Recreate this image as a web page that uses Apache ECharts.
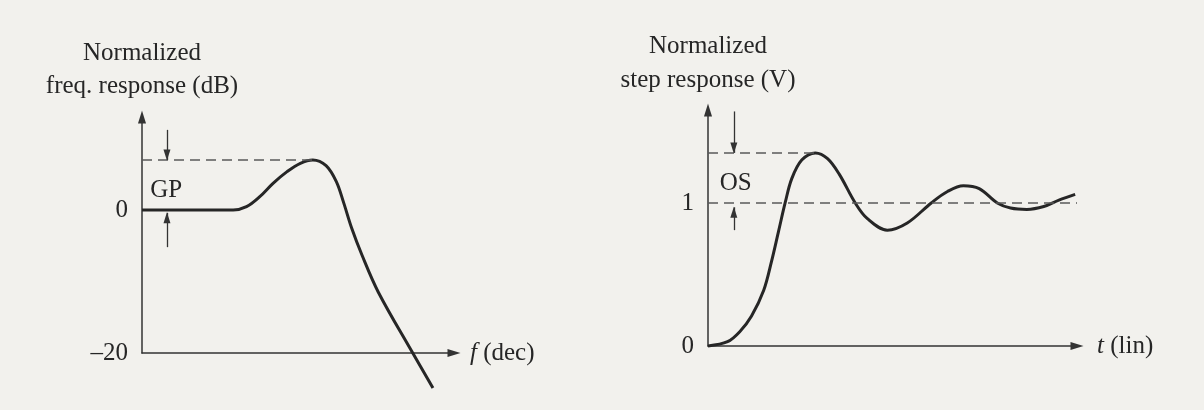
<!DOCTYPE html>
<html>
<head>
<meta charset="utf-8">
<script src="https://cdn.jsdelivr.net/npm/echarts@6/dist/echarts.min.js"></script>
<style>
  html, body { margin: 0; padding: 0; background: #f2f1ed; }
  #chart { width: 1204px; height: 410px; }
</style>
</head>
<body>
<div id="chart"></div>
<script>
// Closed-loop frequency response: position in decades, magnitude in dB
const freqDec = [0, 0.6, 1.0, 1.17, 1.34, 1.51, 1.68, 1.86, 2.03, 2.19, 2.36, 2.49, 2.58, 2.69, 2.82, 3.03, 3.46, 3.73];
const freqDb  = [0, 0, 0, 0, 0.46, 1.86, 3.73, 5.36, 6.53, 7.0, 6.2, 4.0, 1.2, -2.6, -6.3, -11.5, -19.8, -24.9];

// Closed-loop step response: linear time, normalized volts
const stepT = [0, 0.53, 0.86, 1.18, 1.51, 1.72, 1.91, 2.09, 2.27, 2.54, 2.91, 3.24, 3.56, 3.99, 4.32, 4.86, 5.40, 6.05, 6.49, 6.92, 7.35, 7.84, 8.2, 8.64, 9.1, 9.51, 9.95];
const stepV = [0, 0.03, 0.10, 0.21, 0.39, 0.59, 0.80, 1.0, 1.17, 1.30, 1.35, 1.31, 1.20, 1.0, 0.89, 0.81, 0.86, 1.0, 1.08, 1.12, 1.10, 1.0, 0.965, 0.955, 0.975, 1.02, 1.06];

// Labelled ticks on the two vertical axes
const freqTickValues = [0, -20];
const freqTickLabels = ['0', '\u201320'];
const stepTickValues = [0, 1];
const stepTickLabels = ['0', '1'];

// Final value of the step response
const stepFinal = 1;

const zip = (xs, ys) => xs.map((x, i) => [x, ys[i]]);

const fPeak = Math.max(...freqDb);
const fPeakX = freqDec[freqDb.indexOf(fPeak)];
const sPeak = Math.max(...stepV);
const sPeakX = stepT[stepV.indexOf(sPeak)];

const FONT = "'Liberation Serif', 'Times New Roman', 'DejaVu Serif', serif";
const INK = '#262626';
const textBase = { fontFamily: FONT, fontSize: 25, color: INK };

const axisArrowLine = {
  show: true,
  onZero: false,
  symbol: ['none', 'triangle'],
  symbolSize: [8, 13],
  lineStyle: { color: '#333', width: 1.5 }
};

function tickFormatter(values, labels) {
  return v => {
    const i = values.indexOf(v);
    return i >= 0 ? labels[i] : '';
  };
}

const dashStyle = { type: [10, 6], color: '#5a5a5a', width: 1.5 };
const arrowStyle = { type: 'solid', color: '#333', width: 1.3 };

// Vertical pointer whose tip lands on the "to" value
function arrow(x, from, to) {
  return [
    { coord: [x, from], lineStyle: arrowStyle, symbol: 'none' },
    { coord: [x, to], lineStyle: arrowStyle, symbol: 'triangle', symbolSize: [7, 11], symbolOffset: [0, 5] }
  ];
}

function dashed(x0, x1, y) {
  return [
    { coord: [x0, y], lineStyle: dashStyle, symbol: 'none' },
    { coord: [x1, y], lineStyle: dashStyle, symbol: 'none' }
  ];
}

const chart = echarts.init(document.getElementById('chart'), null, { renderer: 'canvas' });

chart.setOption({
  backgroundColor: '#f2f1ed',
  animation: false,
  grid: [
    { left: 142, top: 117, width: 312, height: 236 },
    { left: 708, top: 110, width: 369, height: 236 }
  ],
  xAxis: [
    {
      type: 'value', gridIndex: 0, min: 0, max: 4,
      axisLine: axisArrowLine,
      axisTick: { show: false }, axisLabel: { show: false }, splitLine: { show: false },
      name: '{i|f} (dec)', nameLocation: 'end', nameGap: 16,
      nameTextStyle: Object.assign({}, textBase, {
        verticalAlign: 'middle',
        rich: { i: Object.assign({}, textBase, { fontStyle: 'italic' }) }
      })
    },
    {
      type: 'value', gridIndex: 1, min: 0, max: 10,
      axisLine: axisArrowLine,
      axisTick: { show: false }, axisLabel: { show: false }, splitLine: { show: false },
      name: '{i|t} (lin)', nameLocation: 'end', nameGap: 20,
      nameTextStyle: Object.assign({}, textBase, {
        verticalAlign: 'middle',
        rich: { i: Object.assign({}, textBase, { fontStyle: 'italic' }) }
      })
    }
  ],
  yAxis: [
    {
      type: 'value', gridIndex: 0, min: -20, max: 13, interval: 20,
      axisLine: axisArrowLine,
      axisTick: { show: false }, splitLine: { show: false },
      axisLabel: Object.assign({}, textBase, { margin: 14, formatter: tickFormatter(freqTickValues, freqTickLabels) }),
      name: 'Normalized\nfreq. response (dB)', nameLocation: 'end', nameGap: 14,
      nameTextStyle: Object.assign({}, textBase, { lineHeight: 33, align: 'center' })
    },
    {
      type: 'value', gridIndex: 1, min: 0, max: 1.65, interval: 1,
      axisLine: axisArrowLine,
      axisTick: { show: false }, splitLine: { show: false },
      axisLabel: Object.assign({}, textBase, { margin: 14, formatter: tickFormatter(stepTickValues, stepTickLabels) }),
      name: 'Normalized\nstep response (V)', nameLocation: 'end', nameGap: 13,
      nameTextStyle: Object.assign({}, textBase, { lineHeight: 34, align: 'center' })
    }
  ],
  series: [
    {
      name: 'Frequency response',
      type: 'line', xAxisIndex: 0, yAxisIndex: 0,
      data: zip(freqDec, freqDb),
      smooth: 0.35, showSymbol: false, clip: false, silent: true,
      lineStyle: { color: INK, width: 3 },
      markLine: {
        silent: true, animation: false,
        symbol: ['none', 'none'],
        label: { show: false },
        data: [
          dashed(0, fPeakX, fPeak),
          arrow(0.32, 11.2, fPeak),
          arrow(0.32, -5.2, -0.4)
        ]
      },
      markPoint: {
        silent: true, animation: false,
        symbol: 'circle', symbolSize: 1,
        itemStyle: { color: 'rgba(0,0,0,0)' },
        label: Object.assign({}, textBase, { show: true, position: 'inside', formatter: '{b}' }),
        data: [{ name: 'GP', coord: [0.31, 2.8] }]
      }
    },
    {
      name: 'Step response',
      type: 'line', xAxisIndex: 1, yAxisIndex: 1,
      data: zip(stepT, stepV),
      smooth: 0.35, showSymbol: false, clip: false, silent: true,
      lineStyle: { color: INK, width: 3 },
      markLine: {
        silent: true, animation: false,
        symbol: ['none', 'none'],
        label: { show: false },
        data: [
          dashed(0, sPeakX, sPeak),
          dashed(0, 10, stepFinal),
          arrow(0.7, 1.64, sPeak),
          arrow(0.7, 0.81, 0.97)
        ]
      },
      markPoint: {
        silent: true, animation: false,
        symbol: 'circle', symbolSize: 1,
        itemStyle: { color: 'rgba(0,0,0,0)' },
        label: Object.assign({}, textBase, { show: true, position: 'inside', formatter: '{b}' }),
        data: [{ name: 'OS', coord: [0.75, 1.14] }]
      }
    }
  ]
});
</script>
</body>
</html>
